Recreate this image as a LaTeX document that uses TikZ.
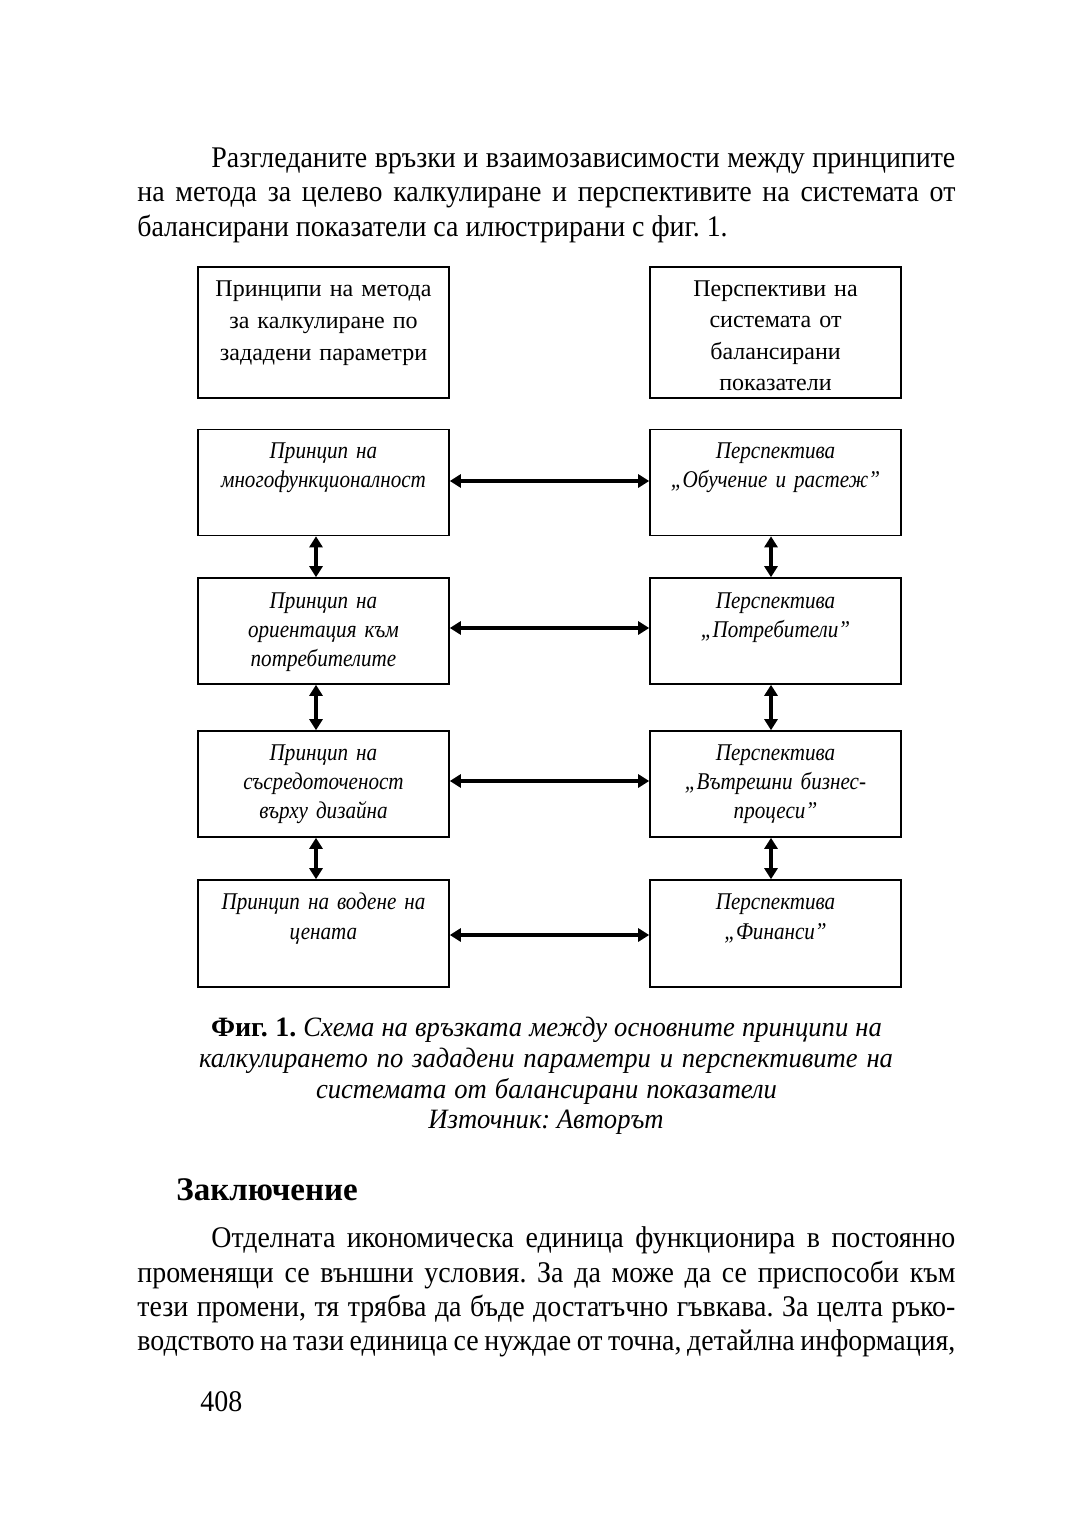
\documentclass[tikz,border=0pt]{standalone}
\usepackage{fontspec}
\setmainfont{Liberation Serif}
\newfontfamily\bodyfont{Liberation Serif}[FakeStretch=0.93]
\newfontfamily\condfont{Liberation Serif}[FakeStretch=0.88]
\newfontfamily\capfont{Liberation Serif}[FakeStretch=0.95]
\usetikzlibrary{arrows.meta}
\tikzset{
  box/.style={draw, line width=0.8pt, minimum width=125.5pt, minimum height=53pt, inner sep=0pt},
  boxtxt/.style={text width=124pt, align=center, anchor=base, inner sep=0pt, font=\condfont\itshape\fontsize{12}{14.5}\selectfont},
  headtxt/.style={boxtxt, font=\rmfamily\upshape\fontsize{12}{16}\selectfont},
  conn/.style={line width=1.7pt, {Triangle[length=5.5pt,width=6.5pt]}-{Triangle[length=5.5pt,width=6.5pt]}},
  bodyline/.style={anchor=base west, inner sep=0pt, font=\bodyfont\fontsize{15}{17}\selectfont\frenchspacing},
  capline/.style={anchor=base, inner sep=0pt, font=\capfont\fontsize{14}{15.5}\selectfont\itshape\frenchspacing},
}
\begin{document}
\begin{tikzpicture}[x=0.5pt,y=-0.5pt]
\useasboundingbox[fill=white] (0,0) rectangle (1080,1530);

% opening paragraph
\node[bodyline] (p1a) at (211,168) {\makebox[372pt][s]{Разгледаните връзки и взаимозависимости между принципите}};
\node[bodyline] (p1b) at (137,202) {\makebox[409pt][s]{на метода за целево калкулиране и перспективите на системата от}};
\node[bodyline] (p1c) at (137,236) {балансирани показатели са илюстрирани с фиг. 1.};

% header boxes
\node[box, minimum height=65.5pt] (H1) at (323.5,332.5) {};
\node[box, minimum height=65.5pt] (H2) at (775.5,332.5) {};
\node[headtxt] (H1t) at ([yshift=-15pt]H1.north) {Принципи на метода\\за калкулиране по\\зададени параметри};
\node[headtxt, font=\rmfamily\upshape\fontsize{12}{15.75}\selectfont] (H2t) at ([yshift=-15pt]H2.north) {Перспективи на\\системата от\\балансирани\\показатели};

% row boxes
\node[box] (L1) at (323.5,482.5) {};
\node[box] (R1) at (775.5,482.5) {};
\node[box] (L2) at (323.5,631) {};
\node[box] (R2) at (775.5,631) {};
\node[box] (L3) at (323.5,784) {};
\node[box] (R3) at (775.5,784) {};
\node[box, minimum height=53.5pt] (L4) at (323.5,933.5) {};
\node[box, minimum height=53.5pt] (R4) at (775.5,933.5) {};

\node[boxtxt] (L1t) at ([yshift=-15pt]L1.north) {Принцип на\\многофункционалност};
\node[boxtxt] (R1t) at ([yshift=-15pt]R1.north) {Перспектива\\„Обучение и растеж”};
\node[boxtxt] (L2t) at ([yshift=-15.5pt]L2.north) {Принцип на\\ориентация към\\потребителите};
\node[boxtxt] (R2t) at ([yshift=-15.5pt]R2.north) {Перспектива\\„Потребители”};
\node[boxtxt] (L3t) at ([yshift=-15pt]L3.north) {Принцип на\\съсредоточеност\\върху дизайна};
\node[boxtxt] (R3t) at ([yshift=-15pt]R3.north) {Перспектива\\„Вътрешни бизнес-\\процеси”};
\node[boxtxt, font=\condfont\itshape\fontsize{12}{15}\selectfont] (L4t) at ([yshift=-15pt]L4.north) {Принцип на водене на\\цената};
\node[boxtxt, font=\condfont\itshape\fontsize{12}{15}\selectfont] (R4t) at ([yshift=-15pt]R4.north) {Перспектива\\„Финанси”};

% horizontal connectors
\draw[conn] ([yshift=0.75pt]L1.east) -- ([yshift=0.75pt]R1.west);
\draw[conn] ([yshift=1.5pt]L2.east) -- ([yshift=1.5pt]R2.west);
\draw[conn] ([yshift=1.5pt]L3.east) -- ([yshift=1.5pt]R3.west);
\draw[conn] ([yshift=-0.75pt]L4.east) -- ([yshift=-0.75pt]R4.west);

% vertical connectors
\draw[conn] ([xshift=-3.75pt]L1.south) -- ([xshift=-3.75pt]L2.north);
\draw[conn] ([xshift=-3.75pt]L2.south) -- ([xshift=-3.75pt]L3.north);
\draw[conn] ([xshift=-3.75pt]L3.south) -- ([xshift=-3.75pt]L4.north);
\draw[conn] ([xshift=-2.25pt]R1.south) -- ([xshift=-2.25pt]R2.north);
\draw[conn] ([xshift=-2.25pt]R2.south) -- ([xshift=-2.25pt]R3.north);
\draw[conn] ([xshift=-2.25pt]R3.south) -- ([xshift=-2.25pt]R4.north);

% caption
\node[capline] (c1) at (546.5,1036) {\makebox[335.5pt][s]{\rmfamily\upshape\bfseries Фиг. 1.\capfont\mdseries\itshape{} Схема на връзката между основните принципи на}};
\node[capline] (c2) at (546,1067) {\makebox[347pt][s]{калкулирането по зададени параметри и перспективите на}};
\node[capline] (c3) at (546.5,1098) {\makebox[230.5pt][s]{системата от балансирани показатели}};
\node[capline] (c4) at (546,1128) {Източник: Авторът};

% heading
\node[anchor=base west, inner sep=0pt, font=\fontsize{16.5}{19}\selectfont\bfseries] (hd) at (176,1200) {Заключение};

% closing paragraph
\node[bodyline] (p2a) at (211,1247) {\makebox[372pt][s]{Отделната икономическа единица функционира в постоянно}};
\node[bodyline] (p2b) at (137,1282) {\makebox[409pt][s]{променящи се външни условия. За да може да се приспособи към}};
\node[bodyline] (p2c) at (137,1316) {\makebox[409pt][s]{тези промени, тя трябва да бъде достатъчно гъвкава. За целта ръко-}};
\node[bodyline] (p2d) at (137,1350) {\makebox[409pt][s]{водството на тази единица се нуждае от точна, детайлна информация,}};

% page number
\node[bodyline] (pg) at (200,1411) {408};
\end{tikzpicture}
\end{document}
